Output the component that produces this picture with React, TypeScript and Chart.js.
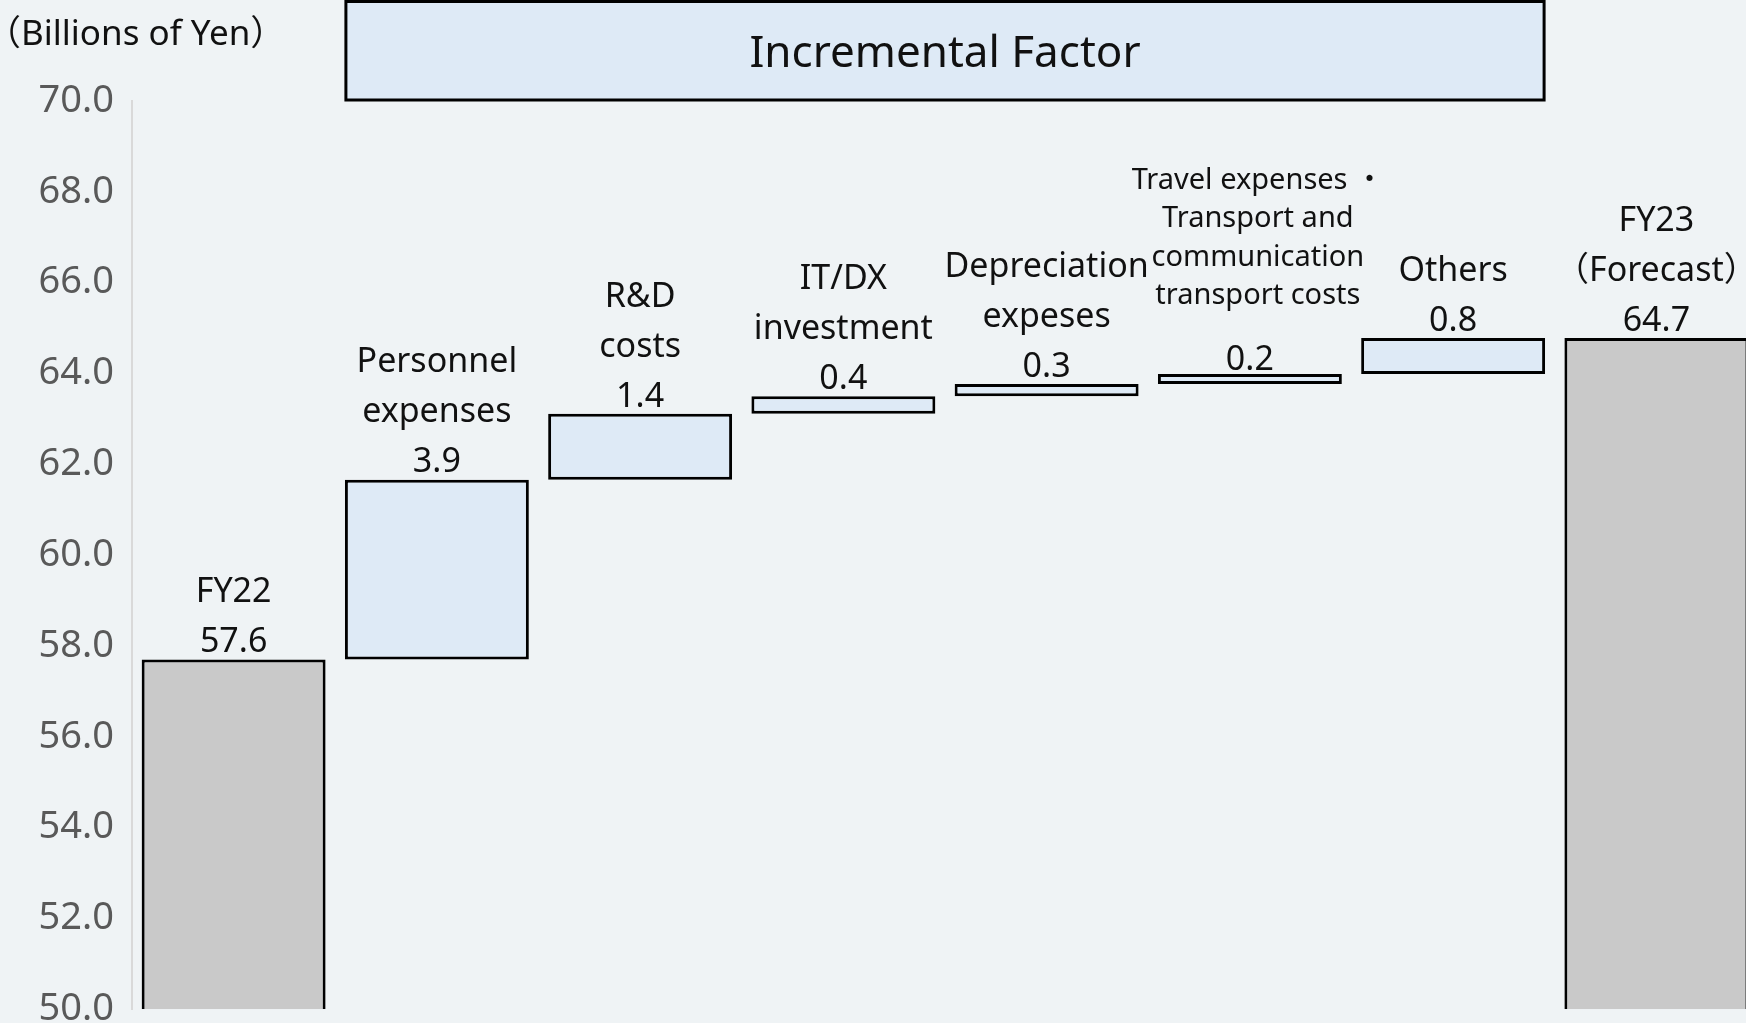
import React, { useEffect, useRef } from "react";
import { Chart, registerables } from "chart.js";

Chart.register(...registerables);

// ---- data ----
const categories = [
  "FY22",
  "Personnel expenses",
  "R&D costs",
  "IT/DX investment",
  "Depreciation expeses",
  "Travel expenses・Transport and communication transport costs",
  "Others",
  "FY23（Forecast）",
];
const nameLines: string[][] = [
  ["FY22"],
  ["Personnel", "expenses"],
  ["R&D", "costs"],
  ["IT/DX", "investment"],
  ["Depreciation", "expeses"],
  ["Travel expenses ・", "Transport and", "communication", "transport costs"],
  ["Others"],
  ["FY23", "（Forecast）"],
];
const valueLabels = ["57.6", "3.9", "1.4", "0.4", "0.3", "0.2", "0.8", "64.7"];
const fy22Value = 57.7;
const increments = [3.96, 1.45, 0.39, 0.27, 0.22, 0.79];
const fy23Value = 64.78;
const yMin = 50;
const yMax = 70;
const yStep = 2;
const axisTitle = "（Billions of Yen）";
const boxTitle = "Incremental Factor";

// ---- styles ----
const BG = "#EFF3F5";
const BLUE = "#DEEAF6";
const GRAY = "#C9C9C9";
const FONT = "'Noto Sans', 'Noto Sans CJK JP', sans-serif";
const SMALL_CAT = 5;

function buildFloating(): [number, number][] {
  const out: [number, number][] = [[yMin, fy22Value]];
  let run = fy22Value;
  for (const inc of increments) {
    out.push([run, run + inc]);
    run += inc;
  }
  out.push([yMin, fy23Value]);
  return out;
}

export default function App() {
  const ref = useRef<HTMLCanvasElement | null>(null);

  useEffect(() => {
    document.body.style.margin = "0";
    document.body.style.background = BG;
    const canvas = ref.current;
    if (!canvas) return;
    Chart.defaults.font.family = FONT;
    const floating = buildFloating();
    const n = categories.length;

    const bgPlugin = {
      id: "bg",
      beforeDraw(chart: any) {
        const { ctx, width, height } = chart;
        ctx.save();
        ctx.fillStyle = BG;
        ctx.fillRect(0, 0, width, height);
        ctx.restore();
      },
    };

    const decoPlugin = {
      id: "deco",
      afterDatasetsDraw(chart: any) {
        const { ctx, chartArea } = chart;
        const meta = chart.getDatasetMeta(0);
        ctx.save();
        // Title box
        const b1 = meta.data[1];
        const b6 = meta.data[6];
        const xL = b1.x - b1.width / 2 + 1;
        const xR = b6.x + b6.width / 2 - 1;
        const yT = 1.5;
        const yB = chartArea.top - 1;
        ctx.fillStyle = BLUE;
        ctx.fillRect(xL, yT, xR - xL, yB - yT);
        ctx.strokeStyle = "#000";
        ctx.lineWidth = 3;
        ctx.strokeRect(xL, yT, xR - xL, yB - yT);
        ctx.fillStyle = "#111";
        ctx.font = `44px ${FONT}`;
        ctx.textAlign = "center";
        ctx.textBaseline = "middle";
        ctx.fillText(boxTitle, (xL + xR) / 2, (yT + yB) / 2 + 4);

        // axis unit title
        ctx.textAlign = "left";
        ctx.font = `35px ${FONT}`;
        ctx.fillText(axisTitle, -14, 35);

        // bar labels
        ctx.textAlign = "center";
        for (let i = 0; i < n; i++) {
          const el = meta.data[i];
          const top = Math.min(el.y, el.base);
          const x = el.x;
          ctx.font = `34px ${FONT}`;
          const valY = top - (i === SMALL_CAT ? 14 : 17);
          ctx.fillText(valueLabels[i], x, valY);
          const lines = nameLines[i];
          if (i === SMALL_CAT) {
            ctx.font = `29px ${FONT}`;
            let y = valY - 64;
            for (let k = lines.length - 1; k >= 0; k--) {
              ctx.fillText(lines[k], x + 8, y);
              y -= 38.5;
            }
          } else {
            let y = valY - 50;
            for (let k = lines.length - 1; k >= 0; k--) {
              ctx.fillText(lines[k], x, y);
              y -= 50;
            }
          }
        }
        ctx.restore();
      },
    };

    const chart = new Chart(canvas, {
      type: "bar",
      data: {
        labels: categories,
        datasets: [
          {
            data: floating as any,
            backgroundColor: floating.map((_, i) => (i === 0 || i === n - 1 ? GRAY : BLUE)),
            borderColor: "#000",
            borderWidth: 3,
            borderSkipped: ((c: any) => (c.dataIndex === 0 || c.dataIndex === n - 1 ? "start" : false)) as any,
            categoryPercentage: 1,
            barPercentage: 0.905,
          },
        ],
      },
      options: {
        responsive: false,
        animation: false,
        devicePixelRatio: 1,
        layout: { padding: { top: 101, bottom: 0, left: 0, right: 4 } },
        plugins: {
          legend: { display: false },
          tooltip: { enabled: false },
        },
        scales: {
          x: { display: false },
          y: {
            min: yMin,
            max: yMax,
            ticks: {
              stepSize: yStep,
              padding: 18,
              color: "#595959",
              font: { size: 38, family: FONT },
              callback: (v: any) => Number(v).toFixed(1),
            },
            grid: { display: false, drawTicks: false },
            border: { display: true, color: "#D9D9D9", width: 2 },
            afterFit: (s: any) => {
              s.width = 132;
            },
          },
        },
      },
      plugins: [bgPlugin, decoPlugin],
    });
    return () => chart.destroy();
  }, []);

  return (
    <div style={{ width: 1746, height: 1023, overflow: "hidden", background: BG, position: "relative" }}>
      <canvas ref={ref} width={1762} height={1050} style={{ display: "block", width: 1762, height: 1050 }} />
    </div>
  );
}
